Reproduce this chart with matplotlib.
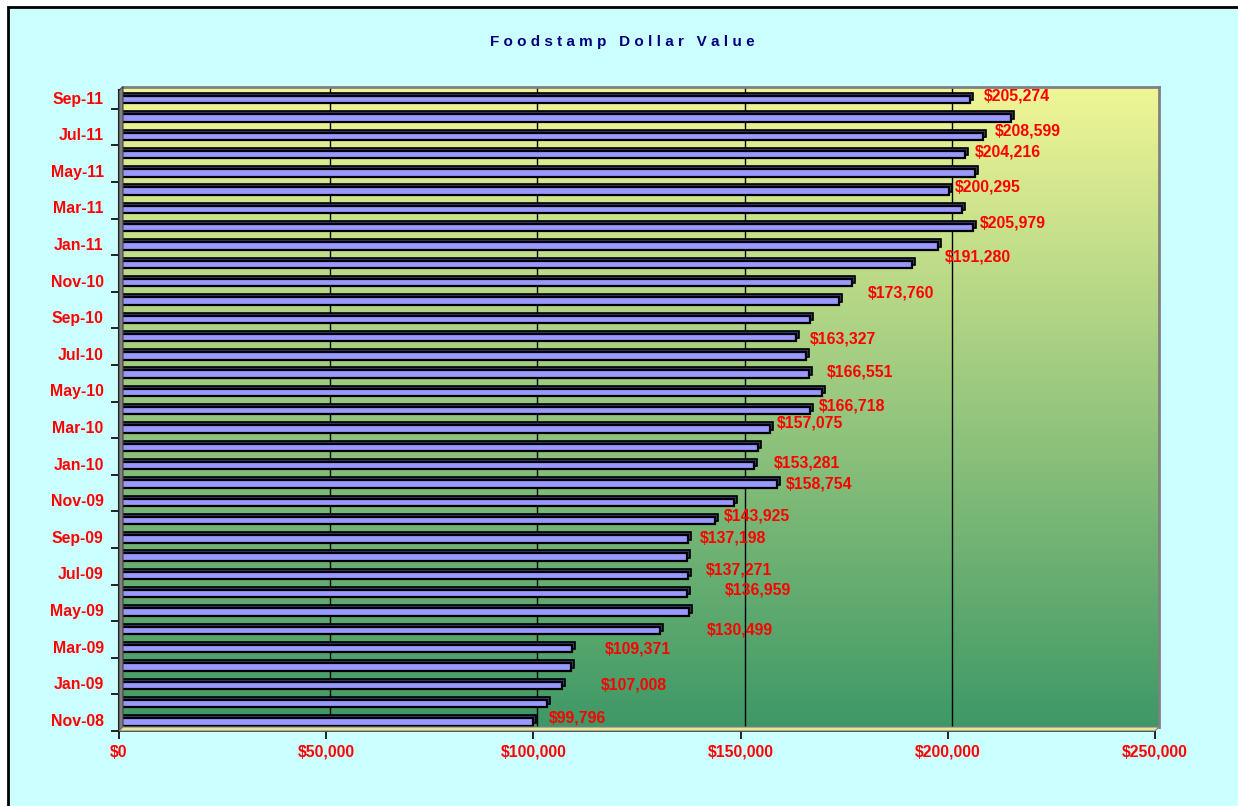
import numpy as np
import matplotlib.pyplot as plt
import matplotlib.transforms as mtransforms
from matplotlib.patches import Rectangle, Polygon
from matplotlib.colors import LinearSegmentedColormap

plt.rcParams['font.family'] = ['Liberation Sans', 'DejaVu Sans']

months = ["Nov-08", "Dec-08", "Jan-09", "Feb-09", "Mar-09", "Apr-09", "May-09",
          "Jun-09", "Jul-09", "Aug-09", "Sep-09", "Oct-09", "Nov-09", "Dec-09",
          "Jan-10", "Feb-10", "Mar-10", "Apr-10", "May-10", "Jun-10", "Jul-10",
          "Aug-10", "Sep-10", "Oct-10", "Nov-10", "Dec-10", "Jan-11", "Feb-11",
          "Mar-11", "Apr-11", "May-11", "Jun-11", "Jul-11", "Aug-11", "Sep-11"]
values = [99796, 103400, 107008, 109100, 109371, 130499, 137500,
          136959, 137271, 137100, 137198, 143925, 148400, 158754,
          153281, 154300, 157075, 166718, 169600, 166551, 165900,
          163327, 166800, 173760, 177000, 191280, 197600, 205979,
          203500, 200295, 206600, 204216, 208599, 215300, 205274]
labelled = [1, 0, 1, 0, 1, 1, 0,
            1, 1, 0, 1, 1, 0, 1,
            1, 0, 1, 1, 0, 1, 0,
            1, 0, 1, 0, 1, 0, 1,
            0, 1, 0, 1, 1, 0, 1]
# where Excel dropped each data label (pixels right / up of the bar end)
label_dx = [16, 0, 38, 0, 33, 47, 0, 38, 18, 0, 12, 8, 0, 9, 20, 0, 7, 9, 0,
            18, 0, 14, 0, 29, 0, 33, 0, 7, 0, 6, 0, 10, 11, 0, 14]
label_dy = [4, 0, 0, 0, 0, 0, 0, 4, 5, 0, 1, 5, 0, 0, 3, 0, 6, 5, 0,
            2, 0, -1, 0, 8, 0, 7, 0, 5, 0, 4, 0, 3, 5, 0, 4]
xticks = [0, 50000, 100000, 150000, 200000, 250000]

W, H = 1238, 806
fig = plt.figure(figsize=(W / 100, H / 100), dpi=100, facecolor='white')


def frame(x0, y0, x1, y1):
    return [x0 / W, 1 - y1 / H, (x1 - x0) / W, (y1 - y0) / H]


# chart area background with border
fig.patches.append(Rectangle((8 / W, -0.05), 1.1, 1 - 7 / H + 0.05, transform=fig.transFigure,
                             facecolor='#ccffff', edgecolor='black', lw=2, zorder=-10))

n = len(months)
ylim = (-0.5, n - 0.5)
xlim = (0, 250000)

# back wall with gradient, shifted for the 3d depth
back = fig.add_axes(frame(123, 86.5, 1159, 727))
cmap = LinearSegmentedColormap.from_list('wall', ['#3e9866', '#f0f696'])
grad = np.linspace(0, 1, 256).reshape(-1, 1)
back.imshow(grad, cmap=cmap, aspect='auto', origin='lower', extent=[*xlim, *ylim])
back.set_xlim(xlim)
back.set_ylim(ylim)
for g in xticks[1:-1]:
    back.axvline(g, color='black', lw=1)
back.set_xticks([])
back.set_yticks([])
for s in ['left', 'bottom']:
    back.spines[s].set_visible(False)
for s in ['right', 'top']:
    back.spines[s].set_color('#808080')
    back.spines[s].set_linewidth(2)

# left wall and floor
fig.patches.append(Polygon([(119 / W, 1 - 731 / H), (119 / W, 1 - 90.5 / H),
                            (123 / W, 1 - 86.5 / H), (123 / W, 1 - 727 / H)],
                           closed=True, transform=fig.transFigure, facecolor='#808080',
                           edgecolor='#404040', lw=0.8, zorder=1))
fig.patches.append(Polygon([(119 / W, 1 - 731 / H), (123 / W, 1 - 727 / H),
                            (1159 / W, 1 - 727 / H), (1155 / W, 1 - 731 / H)],
                           closed=True, transform=fig.transFigure, facecolor='#e6e69a',
                           edgecolor='#808080', lw=0.8, zorder=1))

ax = fig.add_axes(frame(119, 90.5, 1155, 731))
ax.set_facecolor('none')
ax.set_xlim(xlim)
ax.set_ylim(ylim)

y = np.arange(n)
shade = mtransforms.offset_copy(ax.transData, fig=fig, x=3, y=3, units='dots')
ax.barh(y, values, height=0.4, color='#3a3a6a', edgecolor='black', lw=1.2, transform=shade)
ax.barh(y, values, height=0.4, color='#9999ff', edgecolor='black', lw=1.6)

for i, v in enumerate(values):
    if labelled[i]:
        ax.annotate(f"${v:,}", xy=(v, i), xytext=(label_dx[i], label_dy[i]),
                    textcoords='offset pixels', ha='left', va='center',
                    color='red', fontweight='bold', fontsize=11.4)

ax.set_yticks(y[::2])
ax.set_yticklabels(months[::2])
ax.set_yticks(np.arange(-0.5, n - 0.5, 2), minor=True)
ax.tick_params(axis='y', which='major', length=0, pad=11)
ax.tick_params(axis='y', which='minor', length=6, width=1.2, direction='out')
ax.set_xticks(xticks)
ax.set_xticklabels([f"${t:,}" for t in xticks])
ax.tick_params(axis='x', length=6, width=1.2, direction='out', pad=4)
lift = mtransforms.ScaledTranslation(0, 2 / 100, fig.dpi_scale_trans)
for lab in ax.get_yticklabels():
    lab.set_transform(lab.get_transform() + lift)
for lab in ax.get_xticklabels() + ax.get_yticklabels():
    lab.set_color('red')
    lab.set_fontweight('bold')
    lab.set_fontsize(11.4)
for s in ['top', 'right']:
    ax.spines[s].set_visible(False)
ax.spines['left'].set_linewidth(1.5)
ax.spines['bottom'].set_linewidth(1.2)

fig.text(622 / W, 1 - 42 / H, "F o o d s t a m p   D o l l a r   V a l u e",
         ha='center', va='center', color='#000080', fontweight='bold', fontsize=11)

fig.savefig('out.png', dpi=100)
